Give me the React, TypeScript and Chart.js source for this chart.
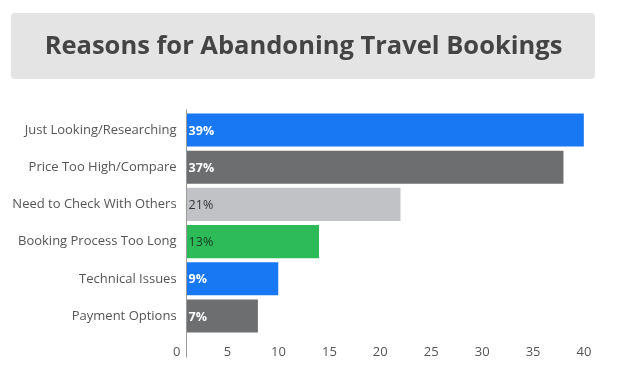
import React, { useEffect, useRef } from "react";
import { Chart, registerables } from "chart.js";

Chart.register(...registerables);

const TITLE = "Reasons for Abandoning Travel Bookings";
const categories = [
  "Just Looking/Researching",
  "Price Too High/Compare",
  "Need to Check With Others",
  "Booking Process Too Long",
  "Technical Issues",
  "Payment Options",
];
const values = [39, 37, 21, 13, 9, 7];
const valueLabels = ["39%", "37%", "21%", "13%", "9%", "7%"];
const barColors = ["#1877f2", "#6d6e70", "#c0c2c5", "#2dbb5a", "#1877f2", "#6d6e70"];
const labelColors = ["#ffffff", "#ffffff", "#333333", "#1d3a22", "#ffffff", "#ffffff"];
const labelBold = [true, true, false, false, true, true];
const xTicks = [0, 5, 10, 15, 20, 25, 30, 35, 40];

const FONT = "'Open Sans', 'Noto Sans', sans-serif";

const titleBoxPlugin = {
  id: "titleBox",
  beforeDraw(chart: any) {
    const ctx = chart.ctx;
    ctx.save();
    ctx.fillStyle = "#e4e4e4";
    const x = 11, y = 13, w = 584, h = 66, r = 4;
    ctx.beginPath();
    ctx.moveTo(x + r, y);
    ctx.lineTo(x + w - r, y);
    ctx.quadraticCurveTo(x + w, y, x + w, y + r);
    ctx.lineTo(x + w, y + h - r);
    ctx.quadraticCurveTo(x + w, y + h, x + w - r, y + h);
    ctx.lineTo(x + r, y + h);
    ctx.quadraticCurveTo(x, y + h, x, y + h - r);
    ctx.lineTo(x, y + r);
    ctx.quadraticCurveTo(x, y, x + r, y);
    ctx.closePath();
    ctx.fill();
    ctx.restore();
  },
};

const axisLinePlugin = {
  id: "axisLine",
  afterDatasetsDraw(chart: any) {
    const ctx = chart.ctx;
    const xs = chart.scales.x;
    const area = chart.chartArea;
    const x0 = Math.round(xs.getPixelForValue(0)) - 0.5;
    ctx.save();
    ctx.strokeStyle = "#9a9a9a";
    ctx.lineWidth = 1;
    ctx.beginPath();
    ctx.moveTo(x0, area.top - 2);
    ctx.lineTo(x0, area.bottom + 23);
    ctx.stroke();
    ctx.restore();
  },
};

const valueLabelPlugin = {
  id: "valueLabels",
  afterDatasetsDraw(chart: any) {
    const ctx = chart.ctx;
    const meta = chart.getDatasetMeta(0);
    ctx.save();
    ctx.textBaseline = "middle";
    ctx.textAlign = "left";
    meta.data.forEach((bar: any, i: number) => {
      ctx.font = `${labelBold[i] ? "bold " : ""}12.5px ${FONT}`;
      ctx.fillStyle = labelColors[i];
      ctx.fillText(valueLabels[i], bar.base + 2, bar.y + 1);
    });
    ctx.restore();
  },
};

export default function App() {
  const ref = useRef<HTMLCanvasElement>(null);
  useEffect(() => {
    document.body.style.margin = "0";
    const chart = new Chart(ref.current!, {
      type: "bar",
      data: {
        labels: categories,
        datasets: [
          {
            data: values,
            backgroundColor: barColors,
            borderWidth: 0,
            barPercentage: 0.89,
            categoryPercentage: 1,
          },
        ],
      },
      plugins: [titleBoxPlugin, axisLinePlugin, valueLabelPlugin],
      options: {
        indexAxis: "y",
        animation: false,
        responsive: false,
        maintainAspectRatio: false,
        layout: { padding: { left: 13, right: 24, top: 0, bottom: 0 } },
        plugins: {
          legend: { display: false },
          tooltip: { enabled: false },
          title: {
            display: true,
            text: TITLE,
            color: "#444444",
            font: { family: FONT, size: 25.5, weight: "bold", lineHeight: 1.2 },
            padding: { top: 31.7, bottom: 49.1 },
          },
        },
        scales: {
          x: {
            type: "linear",
            min: 0,
            max: 40,
            grid: { display: false, drawTicks: false },
            border: { display: false },
            afterBuildTicks: (s: any) => {
              s.ticks = xTicks.map((v) => ({ value: v }));
            },
            afterFit: (s: any) => {
              s.height = 37.4;
            },
            ticks: {
              color: "#555555",
              font: { family: FONT, size: 13 },
              padding: 10,
              labelOffset: -10,
              maxRotation: 0,
              autoSkip: false,
            },
          },
          y: {
            grid: { display: false, drawTicks: false },
            border: { display: false },
            afterFit: (s: any) => {
              s.width = 173.6;
            },
            ticks: {
              color: "#555555",
              font: { family: FONT, size: 13 },
              padding: 10,
              autoSkip: false,
            },
          },
        },
      } as any,
    });
    return () => chart.destroy();
  }, []);
  return (
    <div style={{ width: 618, height: 372 }}>
      <canvas ref={ref} width={618} height={372} style={{ display: "block" }} />
    </div>
  );
}
